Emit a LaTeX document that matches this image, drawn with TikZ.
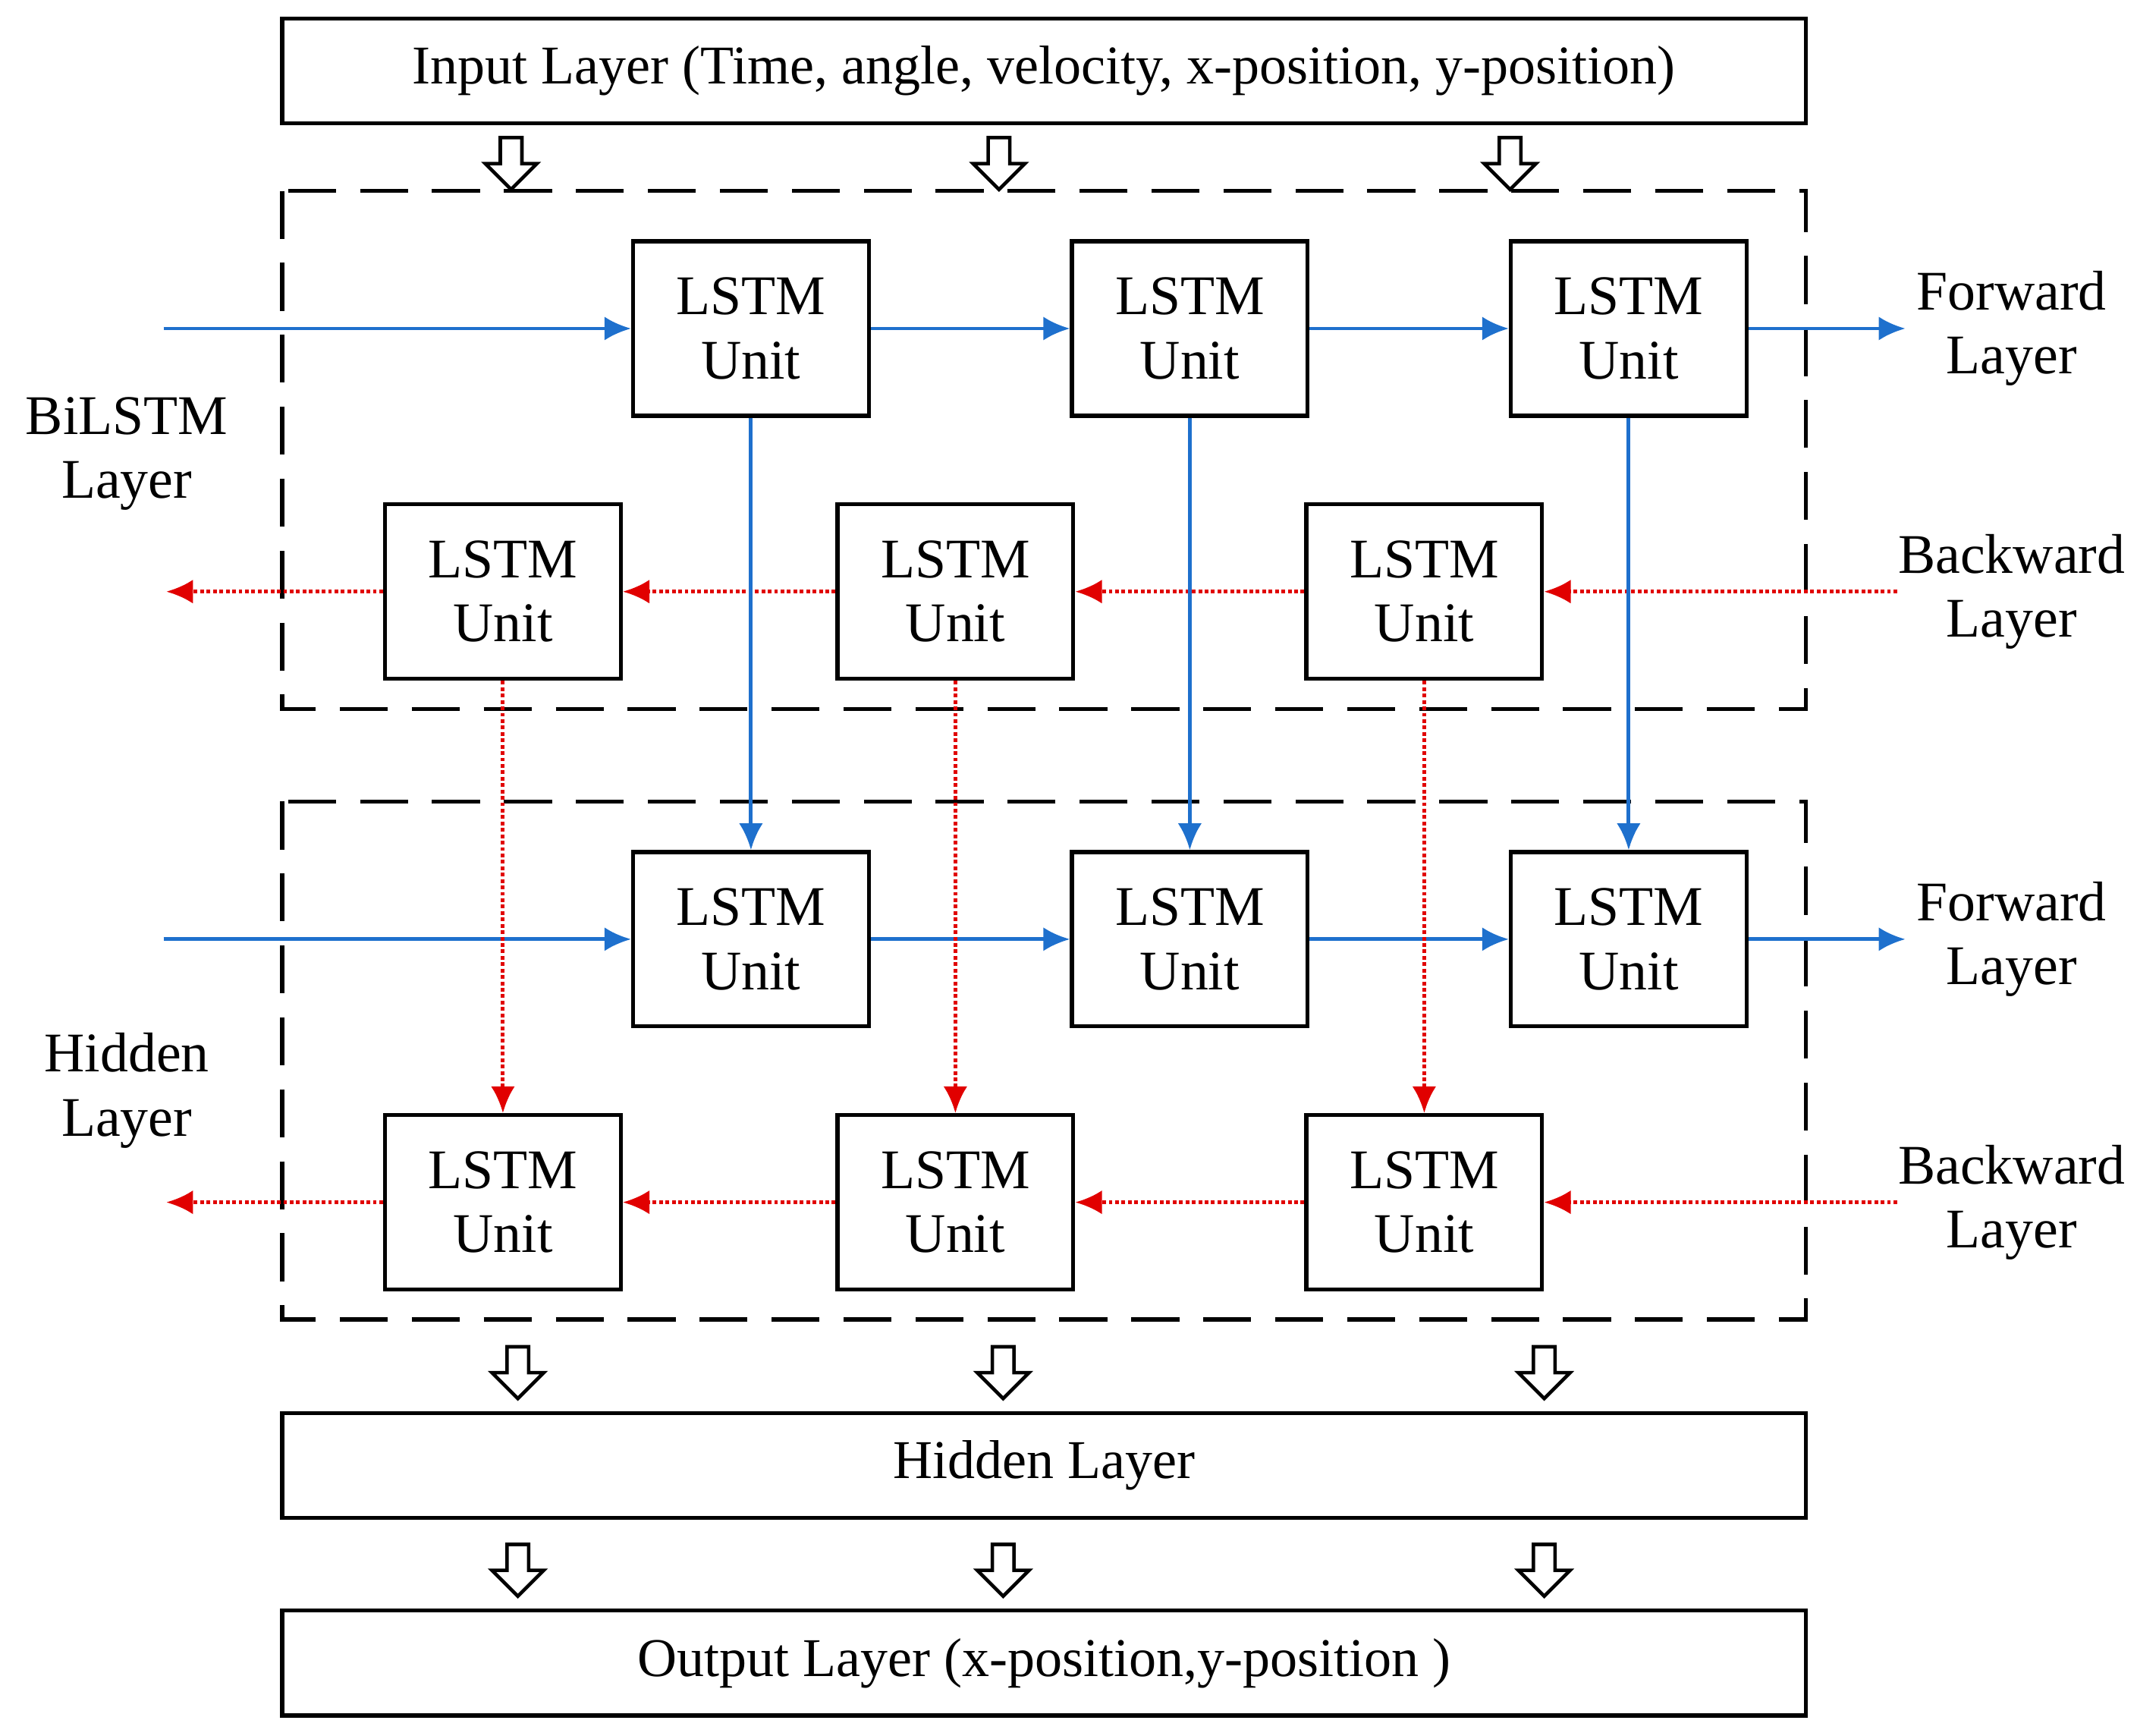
\documentclass[tikz,border=0pt]{standalone}
\usepackage{fontspec}
\setmainfont{Liberation Serif}
\usetikzlibrary{shapes.arrows,arrows.meta}
\definecolor{fblue}{RGB}{30,112,205}
\definecolor{bred}{RGB}{225,0,0}
\begin{document}
\begin{tikzpicture}[x=0.01797cm,y=-0.01797cm,
  box/.style={draw,line width=1.5pt,inner sep=0},
  unit/.style={box,minimum width=173*0.01797cm,minimum height=128*0.01797cm,align=center,font=\fontsize{21}{24}\selectfont},
  lbl/.style={align=center,font=\fontsize{21}{24}\selectfont},
  wide/.style={box,minimum width=1118*0.01797cm,minimum height=77*0.01797cm,font=\fontsize{20.5}{24}\selectfont},
  dashbox/.style={draw,line width=1.5pt,dash pattern=on 18pt off 9pt},
  hol/.style={single arrow,draw,line width=1.3pt,shape border rotate=270,minimum width=38*0.01797cm,minimum height=38*0.01797cm,single arrow head extend=3pt,inner sep=1.5pt},
  fw/.style={fblue,line width=1.4pt,-{Latex[length=10pt,width=9pt]}},
  bw/.style={bred,line width=1.4pt,densely dotted,-{Latex[length=10pt,width=9pt]}}]
\useasboundingbox (0,0) rectangle (1568,1273);
\node[wide] (in) at (766,52) {Input Layer (Time, angle, velocity, x-position, y-position)};
\node[wide] (hid) at (766,1075) {Hidden Layer};
\node[wide] (out) at (766,1220) {Output Layer (x-position,y-position )};
\foreach \x/\n in {375/a,733/b,1108/c}{\node[hol] (i\n) at (\x,116) {};}
\foreach \x/\n in {380/a,736/b,1133/c}{\node[hol] (h\n) at (\x,1003) {}; \node[hol] (o\n) at (\x,1148) {};}
\draw[dashbox] (207,140) rectangle (1325,520);
\draw[dashbox] (207,588) rectangle (1325,968);
\foreach \blk/\dy in {A/0,B/448}{
  \node[unit] (\blk f1) at (551,241+\dy) {LSTM\\Unit};
  \node[unit] (\blk f2) at (873,241+\dy) {LSTM\\Unit};
  \node[unit] (\blk f3) at (1195,241+\dy) {LSTM\\Unit};
  \node[unit] (\blk b1) at (369,434+\dy) {LSTM\\Unit};
  \node[unit] (\blk b2) at (701,434+\dy) {LSTM\\Unit};
  \node[unit] (\blk b3) at (1045,434+\dy) {LSTM\\Unit};
  \coordinate (\blk fs) at (120,241+\dy);
  \coordinate (\blk fe) at (1398,241+\dy);
  \coordinate (\blk bs) at (1392,434+\dy);
  \coordinate (\blk be) at (122,434+\dy);
  \draw[fw] (\blk fs) -- (\blk f1);
  \draw[fw] (\blk f1) -- (\blk f2);
  \draw[fw] (\blk f2) -- (\blk f3);
  \draw[fw] (\blk f3) -- (\blk fe);
  \draw[bw] (\blk bs) -- (\blk b3);
  \draw[bw] (\blk b3) -- (\blk b2);
  \draw[bw] (\blk b2) -- (\blk b1);
  \draw[bw] (\blk b1) -- (\blk be);
  \node[lbl] (\blk fl) at (1476,241+\dy) {Forward\\Layer};
  \node[lbl] (\blk bl) at (1476,434+\dy) {Backward\\Layer};
}
\foreach \i in {1,2,3}{
  \draw[fw] (Af\i) -- (Bf\i);
  \draw[bw] (Ab\i) -- (Bb\i);
}
\node[lbl] (l1) at (93,333) {BiLSTM\\Layer};
\node[lbl] (l2) at (93,800) {Hidden\\Layer};
\end{tikzpicture}
\end{document}
